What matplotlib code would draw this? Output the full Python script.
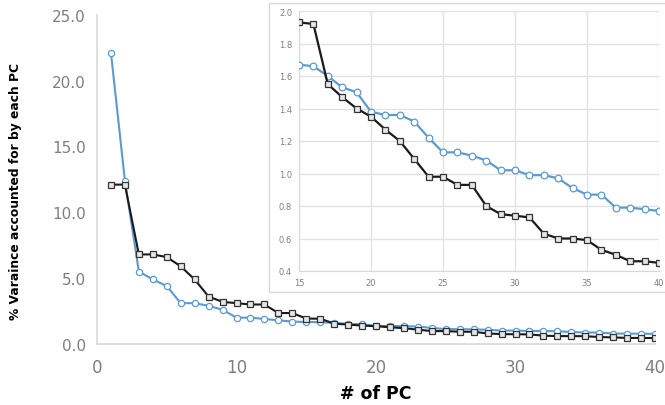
import numpy as np
import matplotlib
matplotlib.use("Agg")
import matplotlib.pyplot as plt
from matplotlib.patches import Rectangle

# Principal component index
pc = list(range(1, 41))

# % variance explained by each PC, two data sets
var_black = [12.1, 12.1, 6.8, 6.8, 6.6, 5.9, 4.9, 3.6, 3.2, 3.1,
             3.0, 3.0, 2.35, 2.35, 1.93, 1.92, 1.55, 1.47, 1.40, 1.35,
             1.27, 1.20, 1.09, 0.98, 0.98, 0.93, 0.93, 0.80, 0.75, 0.74,
             0.73, 0.63, 0.60, 0.60, 0.59, 0.53, 0.50, 0.46, 0.46, 0.45]
var_blue = [22.1, 12.4, 5.5, 4.9, 4.4, 3.1, 3.1, 2.9, 2.6, 2.0,
            2.0, 1.9, 1.8, 1.7, 1.67, 1.66, 1.60, 1.53, 1.50, 1.38,
            1.36, 1.36, 1.32, 1.22, 1.13, 1.13, 1.11, 1.08, 1.02, 1.02,
            0.99, 0.99, 0.97, 0.91, 0.87, 0.87, 0.79, 0.79, 0.78, 0.77]

main_xticks = [0, 10, 20, 30, 40]
main_yticks = [0.0, 5.0, 10.0, 15.0, 20.0, 25.0]
inset_xticks = [15, 20, 25, 30, 35, 40]
inset_yticks = [0.4, 0.6, 0.8, 1.0, 1.2, 1.4, 1.6, 1.8, 2.0]

BLUE = "#5b9bd5"
DARK = "#1a1a1a"
GRID = "#d9d9d9"
TICK = "#7f7f7f"

W, H = 665, 406
fig = plt.figure(figsize=(W / 100, H / 100), dpi=100)
fig.patch.set_facecolor("white")


def fx(px):
    return px / W


def fy(py):
    return 1 - py / H


# ---- main axes ----
ax = fig.add_axes([fx(97), fy(345), fx(655) - fx(97), fy(15.7) - fy(345)])
ax.plot(pc, var_blue, color=BLUE, lw=1.5, marker="o", ms=4.5,
        mfc="white", mec=BLUE, mew=0.9, zorder=3)
ax.plot(pc, var_black, color=DARK, lw=1.5, marker="s", ms=4.5,
        mfc="#e6e6e6", mec="#333333", mew=0.9, zorder=4)
ax.set_xlim(0, 40)
ax.set_ylim(0, 25)
ax.set_xticks(main_xticks)
ax.set_yticks(main_yticks)
ax.set_yticklabels([f"{v:.1f}" for v in main_yticks])
ax.tick_params(length=0, colors=TICK, labelsize=11, pad=8)
ax.tick_params(axis="x", labelsize=12, pad=10)
for s in ["top", "right"]:
    ax.spines[s].set_visible(False)
for s in ["left", "bottom"]:
    ax.spines[s].set_color(GRID)
    ax.spines[s].set_linewidth(1.2)
ax.set_ylabel("% Varaince accounted for by each PC", fontsize=8.8,
              fontweight="bold", color="black")
ax.yaxis.set_label_coords(-(97 - 22) / (655 - 97), (345 - 191) / (345 - 15.7))
ax.set_xlabel("# of PC", fontsize=12.5, fontweight="bold", color="black",
              labelpad=6)

# ---- inset frame (white panel) ----
frame = Rectangle((fx(268.5), fy(293)), 1.2, fy(4) - fy(293),
                  transform=fig.transFigure, facecolor="white",
                  edgecolor=GRID, lw=1.0, zorder=5)
fig.add_artist(frame)

# ---- inset axes ----
ins = fig.add_axes([fx(299), fy(272), fx(659) - fx(299), fy(12) - fy(272)])
ins.set_zorder(6)
ins.plot(pc[14:], var_blue[14:], color=BLUE, lw=1.6, marker="o", ms=4.8,
         mfc="white", mec=BLUE, mew=0.9, zorder=3)
ins.plot(pc[14:], var_black[14:], color=DARK, lw=1.6, marker="s", ms=4.8,
         mfc="#e6e6e6", mec="#333333", mew=0.9, zorder=4)
ins.set_xlim(15, 40)
ins.set_ylim(0.4, 2.0)
ins.set_xticks(inset_xticks)
ins.set_yticks(inset_yticks)
ins.set_yticklabels([f"{v:.1f}" for v in inset_yticks])
ins.tick_params(length=0, colors=TICK, labelsize=6, pad=5)
ins.grid(True, color="#e3e3e3", lw=1.0)
ins.set_axisbelow(True)
for s in ["top", "right"]:
    ins.spines[s].set_visible(False)
for s in ["left", "bottom"]:
    ins.spines[s].set_color(GRID)

fig.savefig("out.png", dpi=100, facecolor="white")
